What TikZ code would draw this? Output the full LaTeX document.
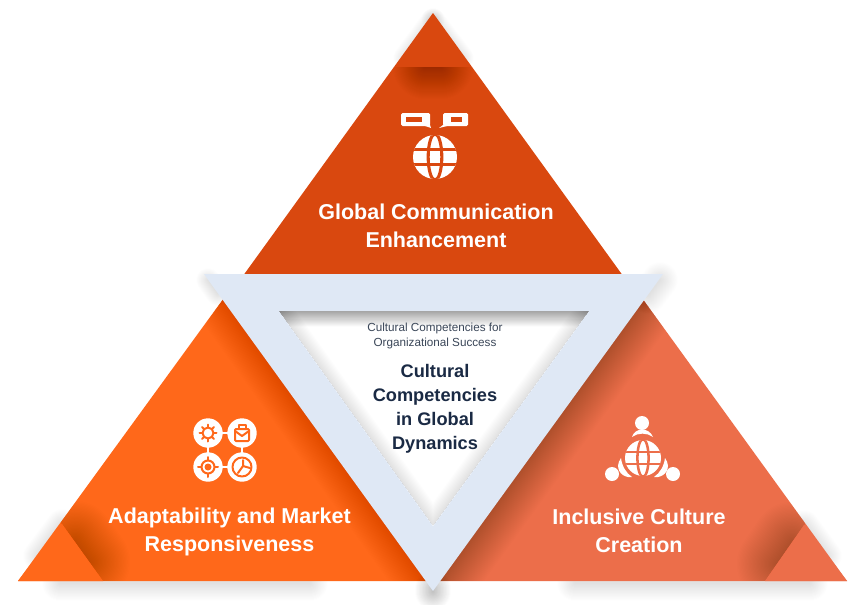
\documentclass[tikz,border=0pt]{standalone}
\usepackage{fontspec}
\setmainfont{Liberation Sans}
\usetikzlibrary{calc}
\definecolor{topc}{HTML}{D9480F}
\definecolor{leftc}{HTML}{FF681A}
\definecolor{rightc}{HTML}{EC6E4A}
\definecolor{framec}{HTML}{DFE8F5}
\definecolor{navy}{HTML}{1A2A44}
\definecolor{slatec}{HTML}{3A4658}
\newcommand{\softstroke}[4]{% path, max width, alpha per layer, colour
  \foreach \k in {1,...,30}{
    \draw[line width=#2*\k/30,draw opacity=#3,draw=#4,line join=round,line cap=round] #1;
  }}
\newcommand{\myglobe}[4]{% x,y,r,colour of the cuts
  \begin{scope}
    \fill[white] (#1,#2) circle[radius=#3];
    \clip (#1,#2) circle[radius=#3];
    \draw[#4,line width=.14*#3] (#1,#2) ellipse[x radius=.31*#3,y radius=1.05*#3];
    \draw[#4,line width=.14*#3] (#1-#3,#2-.33*#3) -- (#1+#3,#2-.33*#3);
    \draw[#4,line width=.14*#3] (#1-#3,#2+.33*#3) -- (#1+#3,#2+.33*#3);
  \end{scope}}
\tikzset{x=1pt,y=-1pt,
  headtext/.style={text=white,font=\fontsize{21.5}{26}\selectfont\bfseries,align=center,inner sep=0},
  boldcenter/.style={text=navy,font=\fontsize{18.2}{24}\selectfont\bfseries,align=center,inner sep=0},
  smallcenter/.style={text=slatec,font=\fontsize{11.7}{15}\selectfont,align=center,inner sep=0},
  bubblecirc/.style={fill=white,draw=none},
  iconline/.style={draw=leftc,line width=2pt,line cap=round,line join=round}}
\begin{document}
\begin{tikzpicture}
\useasboundingbox (0,0) rectangle (865,605);
\fill[white] (0,0) rectangle (865,605);
% ground and edge shadows
\softstroke{(60,583) -- (310,583)}{36}{0.004}{black}
\softstroke{(575,583) -- (810,583)}{36}{0.004}{black}
\softstroke{(38,556) -- (62,524)}{30}{0.004}{black}
\softstroke{(827,556) -- (804,525)}{30}{0.004}{black}
\softstroke{(433,20) -- (405,58)}{24}{0.004}{black}
\softstroke{(433,20) -- (462,58)}{24}{0.004}{black}
% three triangles
\fill[topc] (433,13) -- (626,280) -- (240,280) -- cycle;
\fill[leftc] (237,280) -- (432,581) -- (18,581) -- cycle;
\fill[rightc] (629,280) -- (847,581) -- (434,581) -- cycle;
% fold shadows
\begin{scope}
  \clip (380,67) rectangle (490,120);
  \clip (433,13) -- (626,280) -- (240,280) -- cycle;
  \softstroke{(425,67) -- (441,67)}{64}{0.009}{black}
\end{scope}
\begin{scope}
  \clip (22,468) -- (103,581) -- (400,581) -- (400,300) -- cycle;
  \clip (237,280) -- (432,581) -- (18,581) -- cycle;
  \softstroke{(75,541) -- (90,562)}{80}{0.0075}{black}
\end{scope}
\begin{scope}
  \clip (843,469) -- (765,581) -- (500,581) -- (500,300) -- cycle;
  \clip (629,280) -- (847,581) -- (434,581) -- cycle;
  \softstroke{(792,542) -- (777,564)}{80}{0.0085}{black}
\end{scope}
% frame shadow on the triangles and background
\begin{scope}
  \clip (629,280) -- (847,581) -- (434,581) -- cycle;
  \softstroke{(640,306) -- (445,575)}{70}{0.008}{black}
\end{scope}
\begin{scope}
  \clip (237,280) -- (432,581) -- (18,581) -- cycle;
  \softstroke{(226,304) -- (421,575)}{60}{0.005}{black}
\end{scope}
\softstroke{(660,280) -- (648,296)}{36}{0.0045}{black}
\softstroke{(208,280) -- (218,294)}{24}{0.003}{black}
\softstroke{(433,588) -- (433,592)}{36}{0.009}{black}
% frame
\fill[framec] (204,274) -- (663,274) -- (433,591) -- cycle;
\fill[white] (279,311) -- (589,311) -- (433,526) -- cycle;
\begin{scope}
  \clip (279,311) -- (589,311) -- (433,526) -- cycle;
  \softstroke{(279,311) -- (589,311)}{32}{0.010}{black}
  \softstroke{(279,311) -- (433,526) -- (589,311)}{28}{0.005}{black}
\end{scope}
% corner triangles
\fill[leftc] (62,524) -- (103,581) -- (18,581) -- cycle;
\fill[rightc] (804,525) -- (765,581) -- (847,581) -- cycle;
% labels
\node[headtext] (global) at (436,226) {Global Communication\\[2pt]Enhancement};
\node[headtext] (adapt) at (229.5,532) {Adaptability and Market\\[2pt]Responsiveness};
\node[headtext] (incl) at (639,531) {Inclusive Culture\\[2pt]Creation};
\node[smallcenter] (sub) at (435,335.5) {Cultural Competencies for\\Organizational Success};
\node[boldcenter] (main) at (435,409) {Cultural\\Competencies\\in Global\\Dynamics};
% top icon
\fill[white,rounded corners=1.5pt] (401,113) rectangle (430,126);
\fill[white] (422,125) -- (430,125) -- (431,128) -- cycle;
\fill[topc] (406,117) rectangle (422,122);
\fill[white,rounded corners=1.5pt] (443,113) rectangle (468,126);
\fill[white] (443,125) -- (451,125) -- (439,128) -- cycle;
\fill[topc] (451,117) rectangle (462,122);
\myglobe{435}{157}{22}{topc}
% adaptability icon
\draw[white,line width=1.8pt] (208,433) -- (242,433) -- (242,467) -- (208,467) -- cycle;
\foreach \a/\b in {208/433,242/433,208/467,242/467}{
  \fill[bubblecirc] (\a,\b) circle[radius=14.7];}
% gear
\draw[iconline] (208,433) circle[radius=5.5];
\foreach \t in {0,45,...,315}{\draw[iconline] ($(208,433)+(\t:6)$) -- ($(208,433)+(\t:8.5)$);}
% bag
\draw[iconline,rounded corners=1pt] (235,429) rectangle (249,441);
\draw[iconline] (235,431) -- (242,436) -- (249,431);
\draw[iconline] (238.5,428) -- (238.5,425) -- (245.5,425) -- (245.5,428);
% crosshair
\draw[iconline] (208,467) circle[radius=6.5];
\fill[leftc] (208,467) circle[radius=3.5];
\foreach \t in {0,90,180,270}{\draw[iconline] ($(208,467)+(\t:6.5)$) -- ($(208,467)+(\t:10)$);}
% pie
\draw[iconline] (242,467) circle[radius=9.5];
\draw[iconline] (243,460) -- (243,466) -- (250,468);
\draw[iconline] (243,466) -- (238,473);
% inclusive icon
\fill[white] (642,423) circle[radius=7];
\fill[white] (632,437) .. controls (635,427) and (649,427) .. (653,437) .. controls (647,432.5) and (638,432.5) .. cycle;
\myglobe{643}{458}{18}{rightc}
\fill[white] (612,474) circle[radius=7];
\fill[white] (673,474) circle[radius=7];
\fill[white] (621,458) .. controls (622,466) and (626,473) .. (632,477) -- (628,477) .. controls (621,476) and (614,468) .. cycle;
\fill[white] (665,458) .. controls (664,466) and (660,473) .. (654,477) -- (658,477) .. controls (665,476) and (672,468) .. cycle;
\end{tikzpicture}
\end{document}
